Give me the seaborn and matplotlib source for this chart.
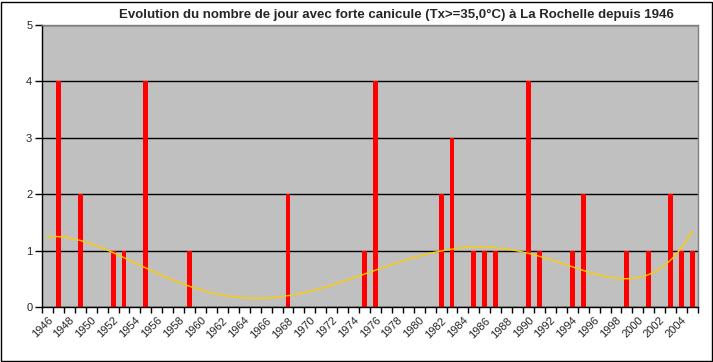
import matplotlib
matplotlib.use("Agg")
import matplotlib.pyplot as plt
import matplotlib.transforms as mtransforms
import numpy as np
import pandas as pd
import seaborn as sns
from matplotlib.patches import Rectangle
from matplotlib.ticker import FixedLocator

# days with Tx >= 35.0 °C at La Rochelle, one value per year
years = list(range(1946, 2006))
days = [0, 4, 0, 2, 0, 0, 1, 1, 0, 4,
        0, 0, 0, 1, 0, 0, 0, 0, 0, 0,
        0, 0, 2, 0, 0, 0, 0, 0, 0, 1,
        4, 0, 0, 0, 0, 0, 2, 3, 0, 1,
        1, 1, 0, 0, 4, 1, 0, 0, 1, 2,
        0, 0, 0, 1, 0, 1, 0, 2, 1, 1]
title = "Evolution du nombre de jour avec forte canicule (Tx>=35,0°C) à La Rochelle depuis 1946"

df = pd.DataFrame({"annee": [str(y) for y in years], "jours": days})
df["pos"] = np.arange(len(df))

sns.set_style("white")
plt.rcParams["font.family"] = ["Liberation Sans", "DejaVu Sans"]

fig = plt.figure(figsize=(7.13, 3.62), dpi=100)
ax = fig.add_axes([42 / 713, 1 - 307 / 362, 656 / 713, 282 / 362])
ax.set_facecolor("#c0c0c0")

sns.barplot(data=df, x="annee", y="jours", color="#ff0000", saturation=1,
            width=0.45, linewidth=0, ax=ax, zorder=2)
# polynomial trend line (order 6, like the spreadsheet one)
sns.regplot(data=df, x="pos", y="jours", order=6, scatter=False, ci=None,
            color="#ffcc00", line_kws={"lw": 1, "zorder": 3}, ax=ax)

ax.set_xlim(-0.5, len(years) - 0.5)
ax.set_ylim(0, 5)
ax.set_yticks(range(6))
ax.set_xlabel("")
ax.set_ylabel("")
ax.set_axisbelow(True)
ax.grid(axis="y", color="black", lw=1)
ax.grid(axis="x", visible=False)

ax.set_xticks(range(0, len(years), 2))
ax.set_xticklabels(df["annee"][::2], rotation=45, ha="right", va="top",
                   rotation_mode="anchor", fontsize=8)
shift = mtransforms.ScaledTranslation(-4 / 100, 0, fig.dpi_scale_trans)
for lab in ax.get_xticklabels():
    lab.set_transform(lab.get_transform() + shift)
ax.xaxis.set_minor_locator(FixedLocator(np.arange(-0.5, len(years), 1)))
ax.tick_params(axis="x", which="major", length=0, pad=6)
ax.tick_params(axis="x", which="minor", length=4, width=1, color="black",
               direction="out", bottom=True)
ax.tick_params(axis="y", length=5, width=1, color="black", direction="out",
               left=True, labelsize=8, pad=2)

for side in ["top", "right"]:
    ax.spines[side].set_color("#808080")
    ax.spines[side].set_linewidth(1)
for side in ["left", "bottom"]:
    ax.spines[side].set_color("black")
    ax.spines[side].set_linewidth(1)

fig.text(396 / 713, 1 - 15 / 362, title, ha="center", va="center",
         fontsize=9.5, fontweight="bold")

fig.patches.append(Rectangle((0.5 / 713, 1.5 / 362), 711 / 713, 359 / 362,
                             transform=fig.transFigure, fill=False,
                             edgecolor="black", lw=1))

fig.savefig("out.png", dpi=100)
